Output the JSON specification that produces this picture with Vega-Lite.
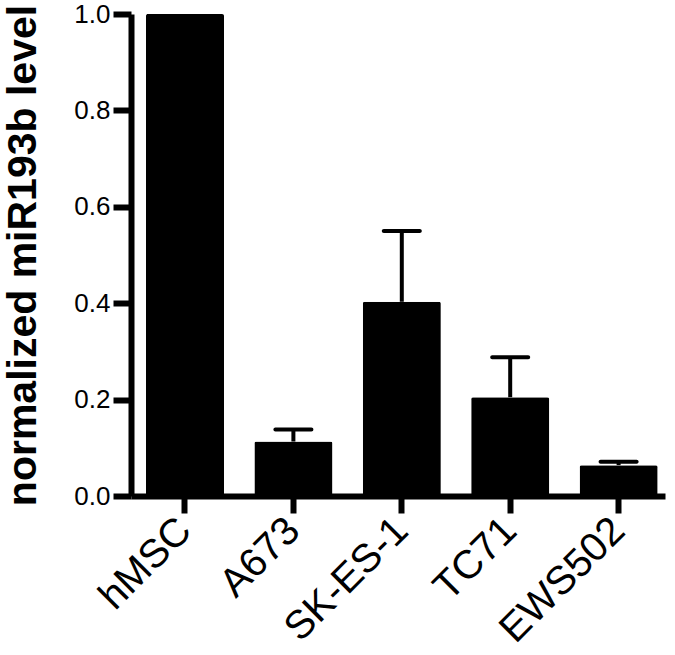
{
  "$schema": "https://vega.github.io/schema/vega-lite/v6.json",
  "autosize": "none",
  "width": 534,
  "height": 482,
  "padding": {"left": 131, "top": 14, "right": 10, "bottom": 159},
  "background": "white",
  "config": {
    "view": {"stroke": null},
    "axis": {"labelFont": "Liberation Sans", "titleFont": "Liberation Sans", "labelColor": "black", "titleColor": "black", "domainColor": "black", "tickColor": "black", "grid": false}
  },
  "data": {
    "values": [
      {"cell": "hMSC", "value": 1.0, "upper": null},
      {"cell": "A673", "value": 0.113, "upper": 0.138},
      {"cell": "SK-ES-1", "value": 0.403, "upper": 0.55},
      {"cell": "TC71", "value": 0.205, "upper": 0.288},
      {"cell": "EWS502", "value": 0.064, "upper": 0.071}
    ]
  },
  "encoding": {
    "x": {
      "field": "cell", "type": "nominal", "sort": null,
      "scale": {"paddingInner": 0.28, "paddingOuter": 0.103, "align": 0.67},
      "axis": {"title": null, "labelAngle": -45, "labelAlign": "right", "labelBaseline": "middle", "labelFontSize": 40, "labelPadding": 11, "tickSize": 17, "tickWidth": 6, "domainWidth": 6}
    }
  },
  "layer": [
    {
      "mark": {"type": "bar", "color": "black", "cornerRadius": 2},
      "encoding": {
        "y": {
          "field": "value", "type": "quantitative",
          "scale": {"domain": [0, 1], "nice": false},
          "axis": {"title": "normalized miR193b level", "titleFontSize": 41, "titleFontWeight": "bold", "titlePadding": 29, "values": [0, 0.2, 0.4, 0.6, 0.8, 1.0], "format": ".1f", "labelFontSize": 26, "labelPadding": 3, "tickSize": 18, "tickWidth": 6, "domainWidth": 6}
        }
      }
    },
    {
      "mark": {"type": "rule", "color": "black", "strokeWidth": 4},
      "encoding": {
        "y": {"field": "value", "type": "quantitative"},
        "y2": {"field": "upper"}
      }
    },
    {
      "mark": {"type": "tick", "color": "black", "opacity": 1, "thickness": 4, "size": 40, "cornerRadius": 2},
      "encoding": {
        "y": {"field": "upper", "type": "quantitative"}
      }
    }
  ]
}
